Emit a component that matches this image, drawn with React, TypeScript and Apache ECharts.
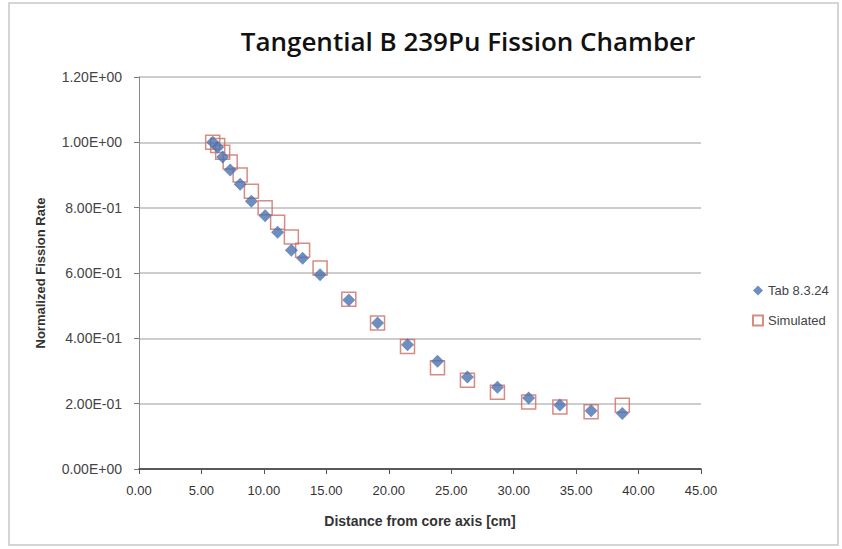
import React, { useEffect, useRef } from "react";
import * as echarts from "echarts";

const distance = [5.9, 6.3, 6.7, 7.3, 8.1, 9.0, 10.1, 11.1, 12.2, 13.1, 14.5, 16.8, 19.1, 21.5, 23.9, 26.3, 28.7, 31.2, 33.7, 36.2, 38.7];
const tabValues = [1.0, 0.985, 0.955, 0.915, 0.872, 0.82, 0.775, 0.725, 0.67, 0.645, 0.595, 0.517, 0.447, 0.38, 0.33, 0.282, 0.25, 0.217, 0.196, 0.178, 0.17];
const simValues = [1.0, 0.99, 0.97, 0.94, 0.9, 0.85, 0.8, 0.755, 0.71, 0.67, 0.615, 0.52, 0.447, 0.375, 0.31, 0.272, 0.235, 0.205, 0.19, 0.175, 0.195];
const seriesNames = ["Tab 8.3.24", "Simulated"];
const titleText = "Tangential B 239Pu Fission Chamber";
const xAxisName = "Distance from core axis [cm]";
const yAxisName = "Normalized Fission Rate";

function expFmt(v: number): string {
  const s = v.toExponential(2).toUpperCase();
  return s.replace(/E([+-])(\d)$/, "E$10$2");
}

export default function App() {
  const ref = useRef<HTMLDivElement>(null);
  useEffect(() => {
    document.body.style.margin = "0";
    const chart = echarts.init(ref.current!, null, { renderer: "svg" });
    const font = "Liberation Sans";
    chart.setOption({
      animation: false,
      backgroundColor: "#ffffff",
      textStyle: { fontFamily: font },
      title: {
        text: titleText,
        left: 463,
        top: 23,
        textAlign: "center",
        textStyle: { fontFamily: "Open Sans", fontSize: 26, fontWeight: 600, color: "#111" },
      },
      graphic: [
        {
          type: "rect",
          shape: { x: 9, y: 3, width: 829, height: 542 },
          style: { fill: "none", stroke: "#c8c8c8", lineWidth: 1.5 },
          silent: true,
        },
      ],
      legend: {
        orient: "vertical",
        left: 747,
        top: 279,
        itemGap: 17,
        itemWidth: 10,
        itemHeight: 10,
        data: seriesNames,
        textStyle: { fontFamily: font, fontSize: 13, color: "#444" },
      },
      grid: { left: 139, right: 141, top: 77, bottom: 80, containLabel: false },
      xAxis: {
        type: "value",
        min: 0,
        max: 45,
        interval: 5,
        name: xAxisName,
        nameLocation: "middle",
        nameGap: 45,
        nameTextStyle: { fontFamily: font, fontSize: 14, fontWeight: "bold", color: "#333" },
        axisLine: { show: true, lineStyle: { color: "#333", width: 1.5 } },
        axisTick: { show: true, inside: false, length: 5, lineStyle: { color: "#555" } },
        axisLabel: { fontSize: 13, color: "#333", margin: 15, formatter: (v: number) => v.toFixed(2) },
        splitLine: { show: false },
      },
      yAxis: {
        type: "value",
        min: 0,
        max: 1.2,
        interval: 0.2,
        name: yAxisName,
        nameLocation: "middle",
        nameGap: 92,
        nameRotate: 90,
        nameTextStyle: { fontFamily: font, fontSize: 13, fontWeight: "bold", color: "#333" },
        axisLine: { show: true, lineStyle: { color: "#888" } },
        axisTick: { show: true, length: 5, lineStyle: { color: "#777" } },
        axisLabel: { fontSize: 14, color: "#444", margin: 17, formatter: (v: number) => expFmt(v) },
        splitLine: { show: true, lineStyle: { color: "#bdbdbd", width: 1.5 } },
      },
      series: [
        {
          name: seriesNames[0],
          type: "scatter",
          symbol: "diamond",
          symbolSize: 13,
          z: 3,
          itemStyle: { color: "#4a72b0" },
          data: distance.map((d, i) => [d, tabValues[i]]),
        },
        {
          name: seriesNames[1],
          type: "scatter",
          symbol: "rect",
          symbolSize: 14,
          z: 2,
          itemStyle: { color: "rgba(255,255,255,0)", borderColor: "#cc6e64", borderWidth: 1.5 },
          data: distance.map((d, i) => [d, simValues[i]]),
        },
      ],
    });
    return () => chart.dispose();
  }, []);
  return <div ref={ref} style={{ width: 842, height: 549 }} />;
}
